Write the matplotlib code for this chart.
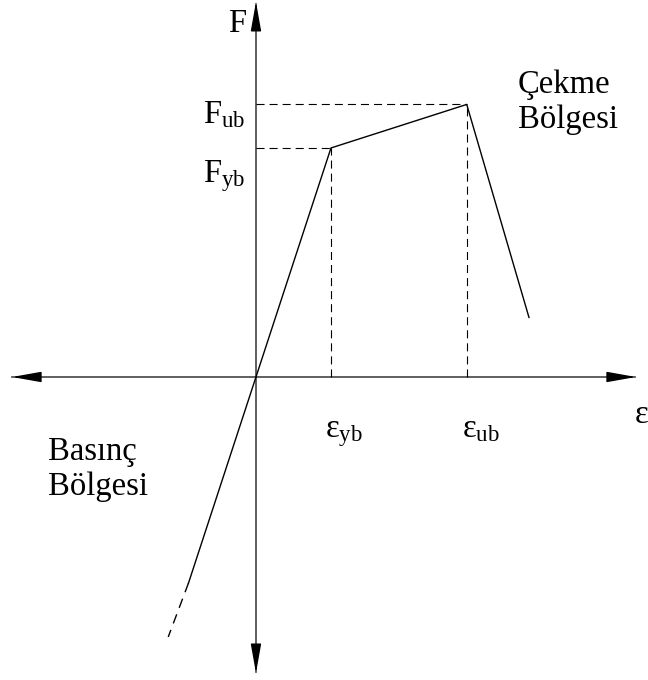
import matplotlib
matplotlib.use('Agg')
import matplotlib.pyplot as plt

plt.rcParams['font.family'] = ['Liberation Serif', 'DejaVu Serif']
plt.rcParams['mathtext.fontset'] = 'custom'
plt.rcParams['mathtext.rm'] = 'Liberation Serif'
plt.rcParams['mathtext.it'] = 'Liberation Serif:italic'
plt.rcParams['lines.scale_dashes'] = False

# force - strain curve, normalised so that yield = 1
eps_tension = [0.0, 1.0, 2.81, 3.64]
F_tension = [0.0, 1.0, 1.19, 0.26]
eps_comp = [0.0, -0.9]
F_comp = [0.0, -0.9]
eps_comp_ext = [-0.9, -1.17]
F_comp_ext = [-0.9, -1.135]

eps_y, F_y = eps_tension[1], F_tension[1]
eps_u, F_u = eps_tension[2], F_tension[2]

fig = plt.figure(figsize=(6.48, 6.8), dpi=100)
ax = fig.add_axes([0, 0, 1, 1])
ax.set_xlim(-3.413, 5.227)
ax.set_ylim(-1.323, 1.646)
ax.axis('off')

# axes with arrow heads
ax.plot([-3.25, 5.06], [0, 0], color='#444444', lw=1.2, zorder=1)
ax.plot([0, 0], [-1.29, 1.63], color='#444444', lw=1.2, zorder=1)
head = dict(arrowstyle='-|>,head_length=1.8,head_width=0.32', color='black',
            lw=1.0, mutation_scale=10, shrinkA=0, shrinkB=0)
for tip, base in [((-3.253, 0), (-2.92, 0)), ((5.067, 0), (4.747, 0)),
                  ((0, 1.638), (0, 1.533)), ((0, -1.293), (0, -1.183))]:
    ax.annotate('', xy=tip, xytext=base, arrowprops=head)

# guide lines to yield and ultimate points
dash = (0, (5.8, 3.6))
ax.plot([0, eps_y], [F_y, F_y], ls=dash, color='black', lw=0.8)
ax.plot([eps_y, eps_y], [0, F_y], ls=dash, color='black', lw=0.8)
ax.plot([0, eps_u], [F_u, F_u], ls=dash, color='black', lw=0.8)
ax.plot([eps_u, eps_u], [0, F_u], ls=dash, color='black', lw=0.8)

# curve
ax.plot(eps_tension, F_tension, color='black', lw=1.0)
ax.plot(eps_comp, F_comp, color='black', lw=1.0)
ax.plot(eps_comp_ext, F_comp_ext, ls=(0, (7, 5)), color='black', lw=1.0)

fs = 23.5
ax.text(-0.133, 1.507, 'F', ha='right', va='baseline', fontsize=fs)
ax.text(-0.707, F_u - 0.081, r'$\mathrm{F}_{\mathrm{ub}}$', ha='left', va='baseline', fontsize=fs)
ax.text(-0.707, F_y - 0.148, r'$\mathrm{F}_{\mathrm{yb}}$', ha='left', va='baseline', fontsize=fs)
ax.text(eps_y - 0.08, -0.262, r'$\mathrm{ε}_{\mathrm{yb}}$', ha='left', va='baseline', fontsize=fs)
ax.text(eps_u - 0.063, -0.262, r'$\mathrm{ε}_{\mathrm{ub}}$', ha='left', va='baseline', fontsize=fs)
ax.text(5.05, -0.20, 'ε', ha='left', va='baseline', fontsize=fs)

ax.text(3.49, 1.24, 'Çekme', ha='left', va='baseline', fontsize=fs)
ax.text(3.49, 1.087, 'Bölgesi', ha='left', va='baseline', fontsize=fs)
ax.text(-2.773, -0.362, 'Basınç', ha='left', va='baseline', fontsize=fs)
ax.text(-2.773, -0.515, 'Bölgesi', ha='left', va='baseline', fontsize=fs)

fig.savefig('out.png', dpi=100)
